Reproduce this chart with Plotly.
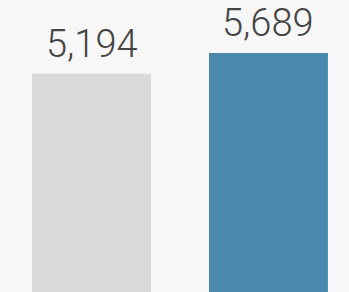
import plotly.graph_objects as go

categories = ["A", "B"]
values = [5194, 5689]
labels = ["5,194", "5,689"]
colors = ["#d9d9d9", "#4a88ad"]

fig = go.Figure()
fig.add_trace(go.Bar(
    x=[0, 1], y=values, marker=dict(color=colors, line=dict(width=0)),
    width=0.672, hoverinfo="skip",
))
for i, (v, t) in enumerate(zip(values, labels)):
    fig.add_annotation(x=i, y=v, text=t, showarrow=False, yanchor="bottom",
                       yshift=6, font=dict(family="Roboto", size=38, color="#444444", weight=300))

fig.update_layout(
    width=349, height=292, margin=dict(l=0, r=0, t=0, b=0),
    paper_bgcolor="#f7f7f7", plot_bgcolor="#f7f7f7", showlegend=False,
    xaxis=dict(range=[-0.517, 1.455], visible=False, fixedrange=True),
    yaxis=dict(range=[0, 6951], visible=False, fixedrange=True),
)
fig.write_html("out.html", config={"displayModeBar": False},
               post_script="document.body.style.margin='0';document.body.style.overflow='hidden';")
